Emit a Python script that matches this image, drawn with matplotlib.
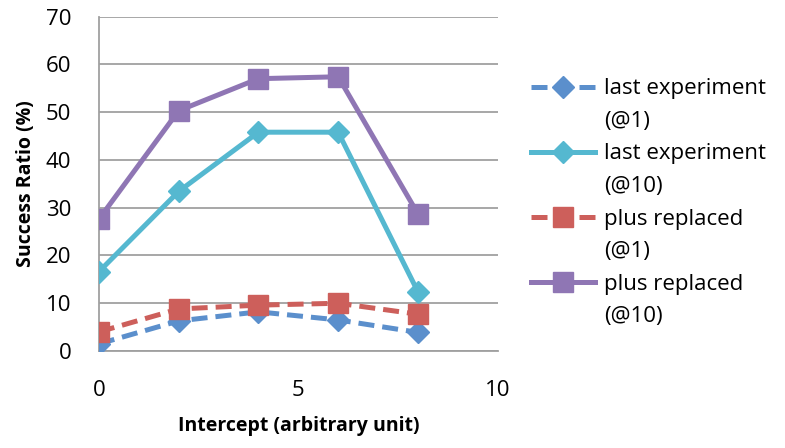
import matplotlib
matplotlib.use("Agg")
import matplotlib.pyplot as plt
from matplotlib.lines import Line2D

plt.rcParams['font.family'] = ['Open Sans', 'DejaVu Sans']

# data
x = [0, 2, 4, 6, 8]
last_at1 = [1.5, 6.3, 8.2, 6.5, 3.9]
last_at10 = [16.6, 33.4, 45.8, 45.8, 12.4]
plus_at1 = [4.0, 8.8, 9.6, 10.0, 7.7]
plus_at10 = [27.6, 50.3, 57.0, 57.4, 28.7]

names = ['last experiment', 'last experiment', 'plus replaced', 'plus replaced']
suffixes = ['(@1)', '(@10)', '(@1)', '(@10)']
colors = ['#5B8FCC', '#55B8D0', '#CD5F5B', '#8F76B4']
grid_col = '#A0A0A0'

fig = plt.figure(figsize=(7.85, 4.48), dpi=100)
ax = fig.add_axes([0.126, 0.2165, 0.508, 0.7465])

dash = (3.2, 1.6)
h1, = ax.plot(x, last_at1, color=colors[0], lw=3.6, ls=(0, dash), marker='D',
              ms=11, zorder=3)
h2, = ax.plot(x, last_at10, color=colors[1], lw=3.6, ls='-', marker='D',
              ms=11, zorder=3)
h3, = ax.plot(x, plus_at1, color=colors[2], lw=3.6, ls=(0, dash), marker='s',
              ms=14, zorder=4)
h4, = ax.plot(x, plus_at10, color=colors[3], lw=3.6, ls='-', marker='s',
              ms=14, zorder=3)

ax.set_xlim(0, 10)
ax.set_ylim(0, 70)
ax.set_xticks([0, 5, 10])
ax.set_yticks(range(0, 71, 10))
ax.tick_params(length=0, labelsize=16)
ax.tick_params(axis='y', pad=20)
ax.tick_params(axis='x', pad=21)
ax.yaxis.grid(True, color=grid_col, lw=1.3)
ax.set_axisbelow(True)
for s in ['top', 'right']:
    ax.spines[s].set_visible(False)
ax.spines['left'].set_color(grid_col)
ax.spines['bottom'].set_color(grid_col)
ax.spines['left'].set_linewidth(1.3)
ax.spines['bottom'].set_linewidth(1.3)

ax.set_xlabel('Intercept (arbitrary unit)', fontsize=14, fontweight='bold', labelpad=11)
ax.set_ylabel('Success Ratio (%)', fontsize=14, fontweight='bold', labelpad=7)

# legend: series name on first line next to the handle, "(@n)" on the line below
blank = Line2D([], [], lw=0, marker=None)
handles = []
labels = []
for h, n, s in zip([h1, h2, h3, h4], names, suffixes):
    handles += [h, blank]
    labels += [n, s]
fig.legend(handles, labels, loc='upper left', bbox_to_anchor=(0.665, 0.845),
           frameon=False, fontsize=16, handlelength=2.9, handletextpad=0.4,
           labelspacing=0.52, borderaxespad=0)

fig.savefig('out.png', dpi=100)
